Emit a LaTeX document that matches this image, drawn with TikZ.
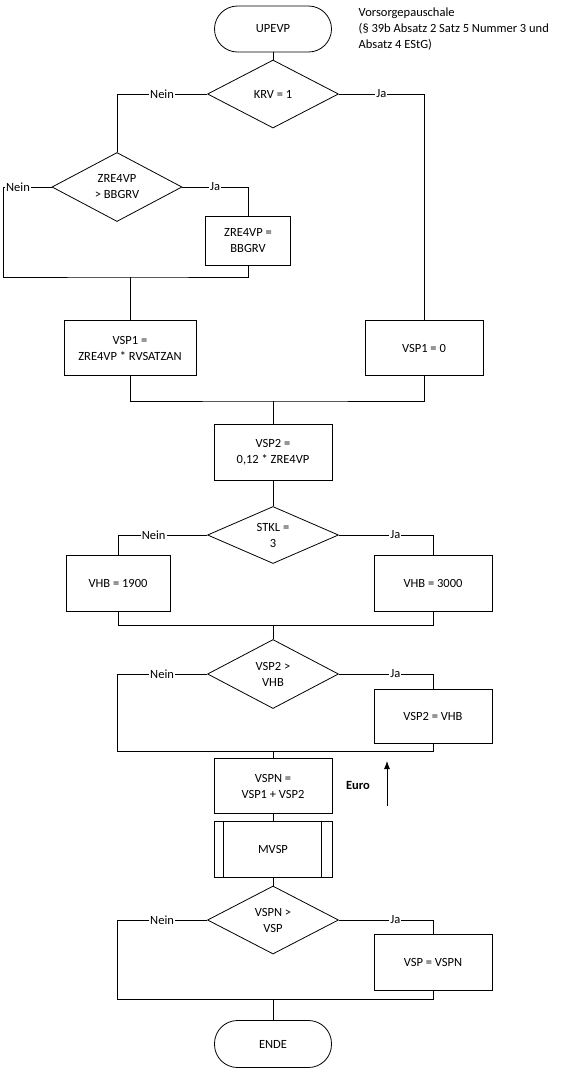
\documentclass[tikz,border=0pt]{standalone}
\usepackage{fontspec}
\setmainfont{Carlito}
\usetikzlibrary{shapes.geometric,arrows.meta}
\begin{document}
\begin{tikzpicture}[x=1pt, y=-1pt, line width=0.8pt,
  every node/.style={font=\fontsize{12.5}{16}\selectfont},
  term/.style={draw, rounded corners=23pt, minimum width=117pt, minimum height=46pt},
  box/.style={draw, align=center, minimum width=118pt, minimum height=55pt},
  test/.style={draw, diamond, align=center, inner sep=0pt, minimum width=131pt, minimum height=68pt},
  lbl/.style={fill=white, inner sep=1pt}]
  \useasboundingbox (0,0) rectangle (576,1072);
  % Knoten
  \node[term] (A) at (273,29) {UPEVP};
  \node[anchor=north west, align=left] (note) at (355,4) {Vorsorgepauschale\\(§ 39b Absatz 2 Satz 5 Nummer 3 und\\Absatz 4 EStG)};
  \node[test] (B) at (273,94) {KRV = 1};
  \node[test, minimum width=130pt, minimum height=69pt] (C) at (117,187) {ZRE4VP\\> BBGRV};
  \node[box, minimum width=85pt, minimum height=49pt] (D) at (248,241) {ZRE4VP =\\BBGRV};
  \node[box, minimum width=132pt] (E) at (130,348) {VSP1 =\\ZRE4VP * RVSATZAN};
  \node[box] (F) at (424,348) {VSP1 = 0};
  \node[box, minimum height=56pt] (G) at (273,452) {VSP2 =\\0,12 * ZRE4VP};
  \node[test, minimum height=57pt] (H) at (273,535) {STKL =\\3};
  \node[box, minimum width=104pt, minimum height=56pt] (I) at (118,583) {VHB = 1900};
  \node[box, minimum height=56pt] (J) at (433,583) {VHB = 3000};
  \node[test, minimum height=69pt] (K) at (273,674) {VSP2 >\\VHB};
  \node[box, minimum height=54pt] (L) at (433,716) {VSP2 = VHB};
  \node[box] (M) at (273,786) {VSPN =\\VSP1 + VSP2};
  \node[box, minimum height=56pt] (N) at (273,849) {MVSP};
  \node[test] (O) at (273,920) {VSPN >\\VSP};
  \node[box, minimum height=56pt] (P) at (433,962) {VSP = VSPN};
  \node[term, minimum height=47pt] (Q) at (273,1044) {ENDE};
  \node[font=\fontsize{12.5}{16}\selectfont\bfseries] (euro) at (358,785) {Euro};

  \coordinate (m1) at (130,277);
  \coordinate (m2) at (273,401);
  \coordinate (m3) at (273,625);
  \coordinate (m4) at (273,751);
  \coordinate (m5) at (273,999);
  \coordinate (e1) at (387,806);
  \coordinate (e2) at (387,761);

  % Kanten
  \draw ([xshift=10pt]N.north west) -- ([xshift=10pt]N.south west);
  \draw ([xshift=-11pt]N.north east) -- ([xshift=-11pt]N.south east);
  \draw (A) -- (B);
  \draw (B.west) -- node[lbl]{Nein} (B.west -| C.north) -- (C.north);
  \draw (B.east) -- node[lbl]{Ja} (B.east -| F.north) -- (F.north);
  \draw (C.east) -- node[lbl]{Ja} (C.east -| D.north) -- (D.north);
  \draw (C.west) -- node[lbl, pos=0.7]{Nein} ++(-48,0) |- (m1) -| (D.south);
  \draw (m1) -- (E.north);
  \draw (E.south) |- (m2) -| (F.south);
  \draw (m2) -- (G);
  \draw (G) -- (H);
  \draw (H.west) -- node[lbl, pos=0.6]{Nein} (H.west -| I.north) -- (I.north);
  \draw (H.east) -- node[lbl, pos=0.6]{Ja} (H.east -| J.north) -- (J.north);
  \draw (I.south) |- (m3) -| (J.south);
  \draw (m3) -- (K);
  \draw (K.west) -- node[lbl]{Nein} ++(-90,0) |- (m4) -| (L.south);
  \draw (K.east) -- node[lbl, pos=0.6]{Ja} (K.east -| L.north) -- (L.north);
  \draw (m4) -- (M);
  \draw (M) -- (N);
  \draw (N) -- (O);
  \draw (O.west) -- node[lbl]{Nein} ++(-90,0) |- (m5) -| (P.south);
  \draw (O.east) -- node[lbl, pos=0.6]{Ja} (O.east -| P.north) -- (P.north);
  \draw (m5) -- (Q);
  \draw[-{Latex[length=8pt,width=6pt]}] (e1) -- (e2);
\end{tikzpicture}
\end{document}
